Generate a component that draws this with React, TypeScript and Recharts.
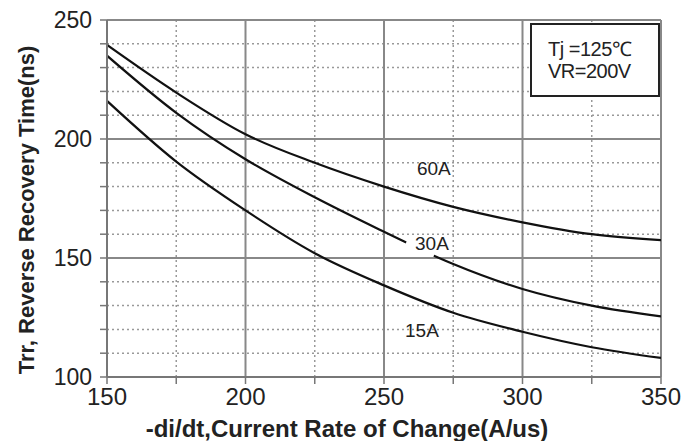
import React from 'react';
import { LineChart, Line, XAxis, YAxis, ReferenceLine, ReferenceDot } from 'recharts';

// -di/dt (A/us) sample points
const rate = [150, 175, 200, 225, 250, 275, 300, 325, 350];
// Trr (ns)
const trr60A = [239.5, 219.5, 202, 190, 180, 171.5, 165, 160, 157.5];
const trr15A = [216, 190.5, 170, 152, 138.5, 127, 119, 112.5, 108];
// the 30A curve is broken where its label sits
const rate30A = [150, 175, 200, 225, 250, 258, 263, 268, 275, 300, 325, 350];
const trr30A = [235, 211, 191.5, 175.5, 161, 156.5, null, 151, 147.5, 137, 130, 125.5];

const xMajor = [150, 200, 250, 300, 350];
const xMinor = [175, 225, 275, 325];
const yMajor = [100, 150, 200, 250];
const yMinor = [110, 120, 130, 140, 160, 170, 180, 190, 210, 220, 230, 240];
const xTicks = [150, 175, 200, 225, 250, 275, 300, 325, 350];
const yTicks = [100, 110, 120, 130, 140, 150, 160, 170, 180, 190, 200, 210, 220, 230, 240, 250];

const curveLabels = [
  { text: '60A', x: 268, y: 187.8 },
  { text: '30A', x: 267.3, y: 156.2 },
  { text: '15A', x: 263.7, y: 119.7 },
];

const toPoints = (xs: number[], ys: (number | null)[]) => xs.map((x, i) => ({ rate: x, trr: ys[i] }));

const data60 = toPoints(rate, trr60A);
const data30 = toPoints(rate30A, trr30A);
const data15 = toPoints(rate, trr15A);

const textColor = '#222';

export default function App() {
  return (
    <div style={{ position: 'absolute', left: 0, top: 0, width: 690, height: 441, background: '#fff', fontFamily: '"Liberation Sans", Arial, sans-serif' }}>
      <LineChart width={690} height={441} margin={{ top: 20, right: 29, left: 0, bottom: 0 }}>
        <XAxis
          dataKey="rate"
          type="number"
          domain={[150, 350]}
          ticks={xTicks}
          allowDataOverflow
          height={64}
          tickSize={7}
          tickMargin={4}
          tickFormatter={(v) => (v % 50 === 0 ? String(v) : '')}
          tick={{ fontSize: 24, fill: textColor }}
          axisLine={{ stroke: '#777', strokeWidth: 2 }}
          tickLine={{ stroke: '#777', strokeWidth: 1.5 }}
          label={{
            content: () => (
              <text x={347} y={437} textAnchor="middle" fontSize={24} fontWeight="bold" fill={textColor}>
                -di/dt,Current Rate of Change(A/us)
              </text>
            ),
          }}
        />
        <YAxis
          type="number"
          domain={[100, 250]}
          ticks={yTicks}
          allowDataOverflow
          width={107}
          tickSize={7}
          tickMargin={8}
          tickFormatter={(v) => (v % 50 === 0 ? String(v) : '')}
          tick={{ fontSize: 23, fill: textColor }}
          axisLine={{ stroke: '#777', strokeWidth: 2 }}
          tickLine={{ stroke: '#777', strokeWidth: 1.5 }}
          label={{
            content: () => (
              <text transform="translate(34,210) rotate(-90)" textAnchor="middle" fontSize={22} fontWeight="bold" fill={textColor}>
                Trr, Reverse Recovery Time(ns)
              </text>
            ),
          }}
        />

        {xMinor.map((v) => (
          <ReferenceLine key={'xm' + v} x={v} stroke="#999" strokeWidth={1.5} strokeDasharray="2 3" />
        ))}
        {yMinor.map((v) => (
          <ReferenceLine key={'ym' + v} y={v} stroke="#999" strokeWidth={1.5} strokeDasharray="2 3" />
        ))}
        {xMajor.map((v) => (
          <ReferenceLine key={'xM' + v} x={v} stroke="#888" strokeWidth={2} />
        ))}
        {yMajor.map((v) => (
          <ReferenceLine key={'yM' + v} y={v} stroke="#888" strokeWidth={2} />
        ))}

        <Line data={data60} dataKey="trr" type="monotone" stroke="#111" strokeWidth={2.2} dot={false} isAnimationActive={false} />
        <Line data={data30} dataKey="trr" type="monotone" stroke="#111" strokeWidth={2.2} dot={false} connectNulls={false} isAnimationActive={false} />
        <Line data={data15} dataKey="trr" type="monotone" stroke="#111" strokeWidth={2.2} dot={false} isAnimationActive={false} />

        {curveLabels.map((l) => (
          <ReferenceDot
            key={l.text}
            x={l.x}
            y={l.y}
            r={1}
            fill="none"
            stroke="none"
            label={{ value: l.text, position: 'center', fontSize: 19, fill: textColor }}
          />
        ))}
      </LineChart>

      <div
        style={{
          position: 'absolute',
          left: 530,
          top: 23,
          width: 130,
          height: 74,
          boxSizing: 'border-box',
          border: '2px solid #222',
          background: '#fff',
          paddingTop: 13,
          paddingLeft: 16,
          fontSize: 20,
          lineHeight: '22px',
          color: textColor,
          letterSpacing: -0.5,
        }}
      >
        <div>Tj =125℃</div>
        <div>VR=200V</div>
      </div>
    </div>
  );
}
